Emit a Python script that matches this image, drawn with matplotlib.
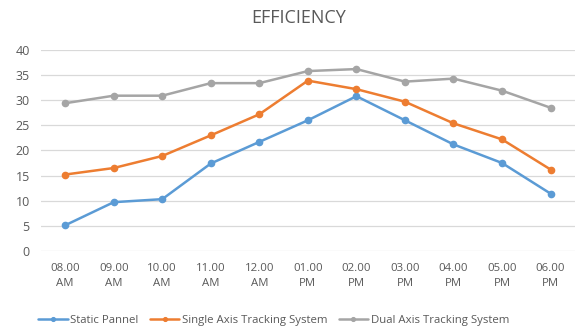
import matplotlib
matplotlib.use("Agg")
import matplotlib.pyplot as plt

hours = ["08.00\nAM", "09.00\nAM", "10.00\nAM", "11.00\nAM", "12.00\nAM", "01.00\nPM",
         "02.00\nPM", "03.00\nPM", "04.00\nPM", "05.00\nPM", "06.00\nPM"]
static_panel = [5.1, 9.7, 10.3, 17.4, 21.7, 26.0, 30.8, 26.0, 21.2, 17.5, 11.4]
single_axis = [15.2, 16.5, 18.9, 23.0, 27.2, 33.9, 32.2, 29.7, 25.4, 22.2, 16.2]
dual_axis = [29.4, 30.9, 30.9, 33.4, 33.4, 35.8, 36.2, 33.7, 34.3, 31.9, 28.5]

series = [
    ("Static Pannel", static_panel, "#5B9BD5"),
    ("Single Axis Tracking System", single_axis, "#ED7D31"),
    ("Dual Axis Tracking System", dual_axis, "#A5A5A5"),
]

plt.rcParams["font.family"] = ["Open Sans", "DejaVu Sans"]
TEXT = "#595959"

fig = plt.figure(figsize=(5.76, 3.31), dpi=100)
ax = fig.add_axes([0.071, 0.242, 0.927, 0.607])

x = range(len(hours))
for label, vals, color in series:
    ax.plot(x, vals, color=color, lw=1.8, marker="o", markersize=4.5,
            label=label, solid_capstyle="round")

ax.set_xlim(-0.5, len(hours) - 0.5)
ax.set_ylim(0, 40)
ax.set_yticks(range(0, 41, 5))
ax.set_xticks(list(x))
ax.set_xticklabels(hours, linespacing=1.45)
ax.grid(axis="y", color="#D9D9D9", lw=0.9)
ax.set_axisbelow(True)
for s in ax.spines.values():
    s.set_visible(False)
ax.tick_params(length=0, colors=TEXT, labelsize=8.2)
ax.tick_params(axis="x", pad=9)
ax.tick_params(axis="y", pad=8, labelsize=9)

fig.text(0.518, 0.945, "EFFICIENCY", ha="center", va="center", fontsize=13, color=TEXT)
fig.legend(loc="lower center", bbox_to_anchor=(0.475, -0.015), ncol=3, frameon=False,
           fontsize=8.2, labelcolor=TEXT, handlelength=2.6, handletextpad=0.2,
           columnspacing=1.0, markerscale=0.6)

fig.savefig("out.png", dpi=100)
